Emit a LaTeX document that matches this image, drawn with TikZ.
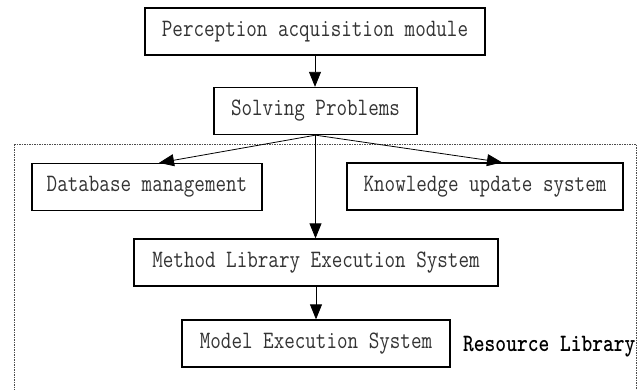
\documentclass[tikz,border=0pt]{standalone}
\usepackage{fontspec}
\usetikzlibrary{arrows.meta}
\newfontfamily\boxfont[FakeStretch=0.82]{Latin Modern Mono}
\newfontfamily\resfont[FakeStretch=0.82]{lmmonolt10-bold.otf}
\begin{document}
\begin{tikzpicture}[x=1pt,y=-1pt]
\tikzset{
  box/.style={draw, line width=1.3pt, minimum height=47pt, inner sep=0pt,
    font=\fontsize{25}{27}\boxfont, text=black!80},
  arr/.style={-{Triangle[length=15pt,width=12pt]}, line width=0.8pt},
  frame/.style={draw=black!70, line width=0.7pt, dash pattern=on 1.5pt off 1pt}
}
\useasboundingbox (0,0) rectangle (644,389);
\clip (0,0) rectangle (644,389);
\draw[frame] (14,144) -- (636,144) -- (636,400) (14,144) -- (14,400);
\node[box, minimum width=340pt] (per) at (315,31.5) {Perception acquisition module};
\node[box, minimum width=203pt] (sol) at (315.5,111) {Solving Problems};
\node[box, minimum width=230pt] (db) at (147,187) {Database management};
\node[box, minimum width=276pt] (ku) at (485,186.5) {Knowledge update system};
\node[box, minimum width=364pt] (met) at (316,262.5) {Method Library Execution System};
\node[box, minimum width=268pt] (mod) at (316,343.5) {Model Execution System};
\node[anchor=west, inner sep=0pt, font=\fontsize{25}{27}\resfont] (res) at (463,347) {Resource Library};
\draw[arr] (per.south) -- (per.south |- sol.north);
\draw[arr] (sol.south) -- ([xshift=12pt]db.north);
\draw[arr] (sol.south) -- ([xshift=17pt]ku.north);
\draw[arr] (sol.south) -- (sol.south |- met.north);
\draw[arr] (met.south) -- (met.south |- mod.north);
\end{tikzpicture}
\end{document}
